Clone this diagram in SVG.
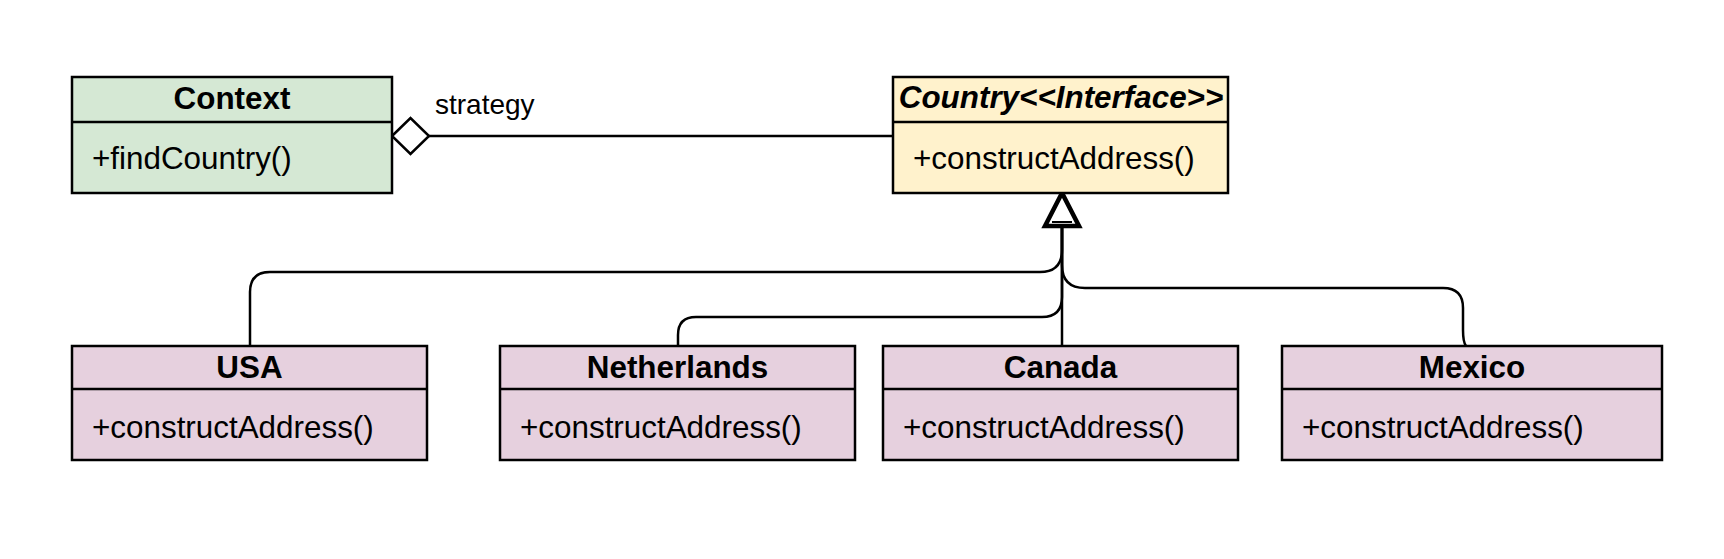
<svg xmlns="http://www.w3.org/2000/svg" width="1724" height="559" viewBox="0 0 1724 559">
<style>
.box{stroke:#000;stroke-width:2.5}
.ctx{fill:#d5e8d4}
.ifc{fill:#fff2cc}
.cls{fill:#e6d0de}
.div{stroke:#000;stroke-width:2.5}
.t{font-family:"Liberation Sans",Arial,sans-serif;font-size:31.4px;fill:#000}
.b{font-weight:bold;text-anchor:middle}
.bi{font-weight:bold;font-style:italic;text-anchor:middle}
.edge{fill:none;stroke:#000;stroke-width:2.5}
</style>
<rect width="1724" height="559" fill="#fff"/>
<g id="connectors">
<path class="edge" d="M250,346 V292 Q250,272 270,272 H1040 Q1062,272 1062,250 V227"/>
<path class="edge" d="M678,346 V335 Q678,317 696,317 H1042 Q1062,317 1062,297 V227"/>
<path class="edge" d="M1062,346 V227"/>
<path class="edge" d="M1466,346 Q1463,342 1463,330 V308 Q1463,288 1443,288 H1085 Q1062,288 1062,265 V227"/>
<polygon points="1062,193 1045,226 1079,226" fill="#fff" stroke="#000" stroke-width="4.5" stroke-linejoin="miter"/>
<line x1="1052" y1="222" x2="1072" y2="222" stroke="#000" stroke-width="2"/>
<line x1="429" y1="136" x2="893" y2="136" class="edge"/>
<polygon points="392,136 410.5,118 429,136 410.5,154" fill="#fff" stroke="#000" stroke-width="2.5"/>
<text class="t" x="435" y="114" style="font-size:28px">strategy</text>
</g>
<g id="context">
<rect class="box ctx" x="72" y="77" width="320" height="116"/>
<line class="div" x1="72" y1="122" x2="392" y2="122"/>
<text class="t b" x="232" y="108.5">Context</text>
<text class="t" x="92" y="168.5">+findCountry()</text>
</g>
<g id="country">
<rect class="box ifc" x="893" y="77" width="335" height="116"/>
<line class="div" x1="893" y1="122" x2="1228" y2="122"/>
<text class="t bi" x="1061" y="108">Country&lt;&lt;Interface&gt;&gt;</text>
<text class="t" x="913" y="168.5">+constructAddress()</text>
</g>
<g id="usa">
<rect class="box cls" x="72" y="346" width="355" height="114"/>
<line class="div" x1="72" y1="389" x2="427" y2="389"/>
<text class="t b" x="249.5" y="377.5">USA</text>
<text class="t" x="92" y="437.5">+constructAddress()</text>
</g>
<g id="netherlands">
<rect class="box cls" x="500" y="346" width="355" height="114"/>
<line class="div" x1="500" y1="389" x2="855" y2="389"/>
<text class="t b" x="677.5" y="377.5">Netherlands</text>
<text class="t" x="520" y="437.5">+constructAddress()</text>
</g>
<g id="canada">
<rect class="box cls" x="883" y="346" width="355" height="114"/>
<line class="div" x1="883" y1="389" x2="1238" y2="389"/>
<text class="t b" x="1060.5" y="377.5">Canada</text>
<text class="t" x="903" y="437.5">+constructAddress()</text>
</g>
<g id="mexico">
<rect class="box cls" x="1282" y="346" width="380" height="114"/>
<line class="div" x1="1282" y1="389" x2="1662" y2="389"/>
<text class="t b" x="1472" y="377.5">Mexico</text>
<text class="t" x="1302" y="437.5">+constructAddress()</text>
</g>
</svg>
